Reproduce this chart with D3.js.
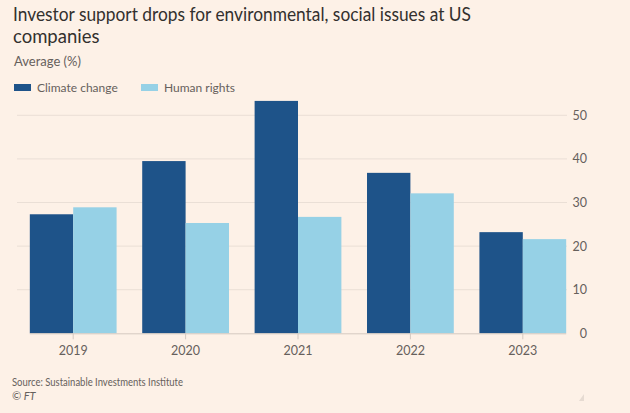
<!DOCTYPE html>
<html>
<head>
<meta charset="utf-8">
<script src="https://cdn.jsdelivr.net/npm/d3@7"></script>
<style>
  html, body { margin: 0; padding: 0; background: #fdf1e7; }
  svg { display: block; }
  text { font-family: Lato, "Open Sans", sans-serif; }
</style>
</head>
<body>
<svg id="chart" width="630" height="413"></svg>
<script>
const years = ["2019", "2020", "2021", "2022", "2023"];
const climateChange = [27.3, 39.5, 53.3, 36.8, 23.2];
const humanRights = [28.9, 25.3, 26.7, 32.1, 21.6];
const seriesNames = ["Climate change", "Human rights"];
const yTicks = [0, 10, 20, 30, 40, 50];

const colors = ["#1e5389", "#96d1e6"];
const svg = d3.select("#chart");
const W = 630, H = 413;
const FONT = "Lato, \"Open Sans\", sans-serif";

svg.append("rect").attr("width", W).attr("height", H).attr("fill", "#fdf1e7");

// Title
svg.append("text").attr("x", 13).attr("y", 21)
  .attr("fill", "#33302e").attr("font-size", 18.5)
  .attr("textLength", 458).attr("lengthAdjust", "spacingAndGlyphs")
  .text("Investor support drops for environmental, social issues at US");
svg.append("text").attr("x", 13).attr("y", 43)
  .attr("fill", "#33302e").attr("font-size", 18.5)
  .text("companies");

svg.append("text").attr("x", 14).attr("y", 66).attr("fill", "#66605c")
  .attr("font-size", 13).text("Average (%)");

// Legend
const legendX = [14, 141];
seriesNames.forEach((n, i) => {
  svg.append("rect").attr("x", legendX[i]).attr("y", 84).attr("width", 17).attr("height", 7)
    .attr("fill", colors[i]);
  svg.append("text").attr("x", legendX[i] + 23).attr("y", 92).attr("fill", "#66605c")
    .attr("font-size", 12).text(n);
});

// Scales
const x0 = d3.scaleBand().domain(years).range([17, 579]).paddingInner(0.228).paddingOuter(0.114);
const x1 = d3.scaleBand().domain([0, 1]).range([0, x0.bandwidth()]);
const y = d3.scaleLinear().domain([0, 50]).range([333.3, 115.3]);

// Gridlines
const grid = svg.append("g");
grid.selectAll("line").data(yTicks.filter(d => d > 0)).join("line")
  .attr("x1", 17).attr("x2", 567)
  .attr("y1", d => y(d)).attr("y2", d => y(d))
  .attr("stroke", "#eadfd6").attr("stroke-width", 1);

// Y axis labels on right
const yAxis = d3.axisRight(y).tickValues(yTicks).tickSize(0).tickPadding(0);
const ya = svg.append("g").attr("transform", "translate(587,0)").call(yAxis);
ya.select(".domain").remove();
ya.selectAll("text").attr("text-anchor", "end").attr("x", 0)
  .attr("fill", "#66605c").attr("font-size", 12.5).attr("font-family", FONT);

// Bars
const data = years.map((yr, i) => ({ year: yr, vals: [climateChange[i], humanRights[i]] }));
const groups = svg.append("g").selectAll("g").data(data).join("g")
  .attr("transform", d => `translate(${x0(d.year)},0)`);
groups.selectAll("rect").data(d => d.vals.map((v, k) => ({ v, k }))).join("rect")
  .attr("x", d => x1(d.k))
  .attr("width", x1.bandwidth())
  .attr("y", d => y(d.v))
  .attr("height", d => y(0) - y(d.v))
  .attr("fill", d => colors[d.k]);

// X axis
const xAxis = d3.axisBottom(x0).tickSize(6).tickPadding(7);
const xa = svg.append("g").attr("transform", `translate(0,${y(0)})`).call(xAxis);
xa.select(".domain").attr("d", `M${x0(years[0])},0.5H${x0(years[4]) + x0.bandwidth()}`)
  .attr("stroke", "#d4c9c0");
xa.selectAll(".tick line").attr("stroke", "#d4c9c0");
xa.selectAll("text").attr("fill", "#66605c").attr("font-size", 12.5)
  .attr("font-family", FONT);

// Source
svg.append("text").attr("x", 12).attr("y", 386).attr("fill", "#66605c")
  .attr("font-size", 11).attr("textLength", 171).attr("lengthAdjust", "spacingAndGlyphs")
  .text("Source: Sustainable Investments Institute");
svg.append("text").attr("x", 12).attr("y", 400).attr("fill", "#66605c")
  .attr("font-size", 11).attr("font-style", "italic").text("© FT");

// small corner mark
svg.append("path").attr("d", "M584,394 L584,401 L579,401 Z").attr("fill", "#e6dbd2");
</script>
</body>
</html>
